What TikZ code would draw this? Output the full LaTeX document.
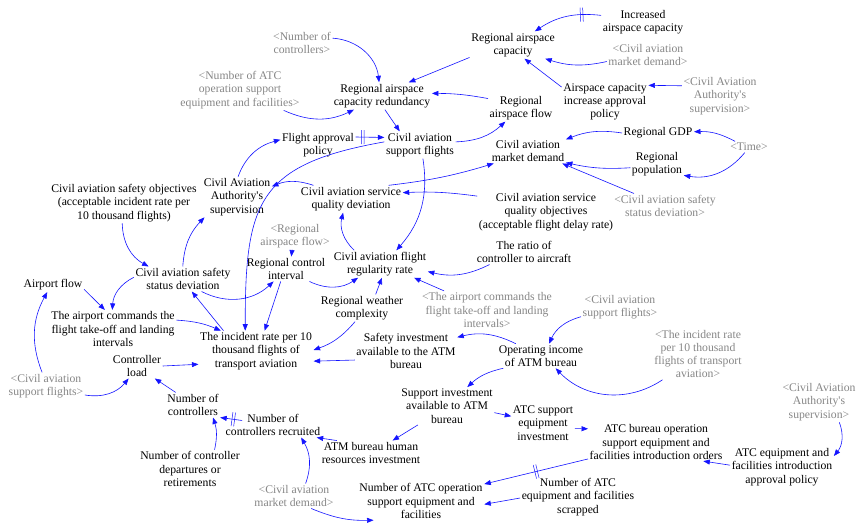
\documentclass[tikz,border=0pt]{standalone}
\usepackage{fontspec}
\setmainfont{Liberation Serif}[Ligatures=TeXOff]
\usetikzlibrary{arrows.meta,decorations.markings}
\newcommand\vfont{\fontsize{11.7pt}{13.3pt}\selectfont}
\definecolor{linkblue}{RGB}{20,20,255}
\definecolor{shadowgray}{RGB}{135,135,135}
\tikzset{
  var/.style={align=center, inner sep=1.5pt, font=\vfont, text=black},
  shadowvar/.style={var, text=shadowgray},
  arr/.style={draw=linkblue, line width=0.6pt, -{Triangle[length=6.5pt,width=5pt]}},
  delaymark/.style={postaction={decorate, decoration={markings,
     mark=at position #1 with {\draw[-,draw=linkblue,line width=0.5pt]
       (-1.3pt,-7pt) -- (-1.3pt,7pt) (1.3pt,-7pt) -- (1.3pt,7pt);}}}}
}
\begin{document}
\begin{tikzpicture}[x=1pt,y=-1pt]
\fill[white] (0,0) rectangle (858,527);
\useasboundingbox (0,0) rectangle (858,527);

% ---- variables ----
\node[var] (inc) at (643,22) {Increased\\airspace capacity};
\node[var] (rac) at (513,45) {Regional airspace\\capacity};
\node[shadowvar] (gmd1) at (648,55) {<Civil aviation\\market demand>};
\node[var] (acp) at (605,102) {Airspace capacity\\increase approval\\policy};
\node[shadowvar] (gcas1) at (720,96) {<Civil Aviation\\Authority's\\supervision>};
\node[var] (raf) at (521,108) {Regional\\airspace flow};
\node[var] (gdp) at (658,133) {Regional GDP};
\node[shadowvar] (time) at (749,147) {<Time>};
\node[var] (md) at (528,151) {Civil aviation\\market demand};
\node[var] (pop) at (657,164) {Regional\\population};
\node[shadowvar] (gssd) at (665,206) {<Civil aviation safety\\status deviation>};
\node[var] (sqo) at (546,212) {Civil aviation service\\quality objectives\\(acceptable flight delay rate)};
\node[var] (ratio) at (524,252) {The ratio of\\controller to aircraft};
\node[var] (rr) at (380,264) {Civil aviation flight\\regularity rate};
\node[shadowvar] (gac) at (487,310) {<The airport commands the\\flight take-off and landing\\intervals>};
\node[shadowvar] (gsf2) at (620,307) {<Civil aviation\\support flights>};
\node[var] (wx) at (362,308) {Regional weather\\complexity};
\node[var] (si) at (406,351) {Safety investment\\available to the ATM\\bureau};
\node[var] (oi) at (541,356) {Operating income\\of ATM bureau};
\node[shadowvar] (gir) at (698,354) {<The incident rate\\per 10 thousand\\flights of transport\\aviation>};
\node[var] (spi) at (447,406) {Support investment\\available to ATM\\bureau};
\node[var] (sei) at (543,423) {ATC support\\equipment\\investment};
\node[var] (ord) at (656,442) {ATC bureau operation\\support equipment and\\facilities introduction orders};
\node[shadowvar] (gcas2) at (819,402) {<Civil Aviation\\Authority's\\supervision>};
\node[var] (eap) at (782,467) {ATC equipment and\\facilities introduction\\approval policy};
\node[var] (hr) at (371,453) {ATM bureau human\\resources investment};
\node[var] (nos) at (421,501) {Number of ATC operation\\support equipment and\\facilities};
\node[var] (scr) at (578,497) {Number of ATC\\equipment and facilities\\scrapped};
\node[shadowvar] (gmd2) at (294,496) {<Civil aviation\\market demand>};
\node[var] (rec) at (273,425) {Number of\\controllers recruited};
\node[var] (nc) at (193,405) {Number of\\controllers};
\node[var] (dep) at (190,469) {Number of controller\\departures or\\retirements};
\node[var] (cl) at (137,366) {Controller\\load};
\node[shadowvar] (gsf1) at (46,386) {<Civil aviation\\support flights>};
\node[var] (ir) at (256,351) {The incident rate per 10\\thousand flights of\\transport aviation};
\node[var] (ac) at (113,329) {The airport commands the\\flight take-off and landing\\intervals};
\node[var] (af) at (53,285) {Airport flow};
\node[var] (ssd) at (183,279) {Civil aviation safety\\status deviation};
\node[var] (rci) at (286,269) {Regional control\\interval};
\node[shadowvar] (graf) at (295,236) {<Regional\\airspace flow>};
\node[var] (caa) at (237,197) {Civil Aviation\\Authority's\\supervision};
\node[var] (cso) at (124,203) {Civil aviation safety objectives\\(acceptable incident rate per\\10 thousand flights)};
\node[var] (sqd) at (351,199) {Civil aviation service\\quality deviation};
\node[var] (fap) at (318,145) {Flight approval\\policy};
\node[var] (sf) at (420,145) {Civil aviation\\support flights};
\node[var] (red) at (382,96) {Regional airspace\\capacity redundancy};
\node[shadowvar] (gnc) at (302,43) {<Number of\\controllers>};
\node[shadowvar] (gnatc) at (240,90) {<Number of ATC\\operation support\\equipment and facilities>};

% ---- airspace capacity ----
\draw[arr,delaymark=0.28] (inc.171) to[bend right=20] (rac.32);
\draw[arr] (gmd1.189) to[bend left=15] (rac.337);
\draw[arr] (acp.161) -- (rac.310);
\draw[arr] (gcas1.165) -- (acp.21);
\draw[arr] (rac.196) -- (red.27);
\draw[arr] (raf.164) to[bend right=5] (red.3);
\draw[arr] (gnc.9) to[bend left=40] (red.102);
\draw[arr] (gnatc.335) to[bend right=25] (red.206);
\draw[arr] (red.282) -- (sf.146);
\draw[arr,delaymark=0.25] (fap.12) -- (sf.168);
\draw[arr] (sf.5) to[bend right=20] (raf.221);
\draw[arr] (sf.282) to[bend left=25] (rr.40);
\draw[arr] (sf.175) to[out=190,in=90,looseness=1.4] (ir.118);

% ---- regulation and service quality ----
\draw[arr] (caa.87) to[out=70,in=195] (fap.172);
\draw[arr] (sqd.160) to[bend right=20] (caa.17);
\draw[arr] (sqo.167) to[bend right=5] (sqd.7);
\draw[arr] (rr.152) to[bend left=30] (sqd.240);
\draw[arr] (sqd.20) to[bend right=5] (md.200);

% ---- market demand ----
\draw[arr] (gdp.180) to[bend right=15] (md.17);
\draw[arr] (pop.188) to[bend left=8] (md.343);
\draw[arr] (gssd.158) -- (md.340);
\draw[arr] (time.158) to[bend right=15] (gdp.2);
\draw[arr] (time.233) to[bend left=30] (pop.337);

% ---- flight regularity ----
\draw[arr] (ratio.200) to[bend left=20] (rr.351);
\draw[arr] (gac.156) -- (rr.338);
\draw[arr] (wx.45) -- (rr.278);
\draw[arr] (rci.332) to[bend right=30] (rr.212);
\draw[arr] (graf.258) -- (rci.67);

% ---- safety ----
\draw[arr] (rci.247) -- (ir.67);
\draw[arr] (ssd.326) to[bend right=35] (rci.225);
\draw[arr] (ir.148) -- (ssd.305);
\draw[arr] (wx.243) to[bend left=15] (ir.1);
\draw[arr] (si.190) -- (ir.350);
\draw[arr] (ac.8) to[bend left=10] (ir.150);
\draw[arr] (cl.0) -- (ir.193);
\draw[arr] (af.352) -- (ac.113);
\draw[arr] (ssd.178) to[bend right=30] (ac.92);
\draw[arr] (gsf1.106) to[bend left=25] (af.231);
\draw[arr] (gsf1.347) to[bend right=30] (cl.236);
\draw[arr] (nc.144) -- (cl.325);
\draw[arr] (ssd.91) to[bend left=20] (caa.212);
\draw[arr] (cso.265) to[bend right=30] (ssd.160);

% ---- ATM bureau finance ----
\draw[arr] (gsf2.194) to[bend right=25] (oi.57);
\draw[arr] (gir.216) to[bend left=40] (oi.320);
\draw[arr] (oi.154) to[bend right=20] (si.15);
\draw[arr] (oi.198) to[bend right=15] (spi.43);
\draw[arr] (spi.352) -- (sei.168);
\draw[arr] (spi.213) -- (hr.30);
\draw[arr] (sei.350) -- (ord.169);
\draw[arr] (eap.178) -- (ord.338);
\draw[arr] (gcas2.315) to[bend left=30] (eap.12);
\draw[arr,delaymark=0.5] (ord.194) -- (nos.15);
\draw[arr] (scr.181) -- (nos.357);
\draw[arr] (gmd2.324) to[bend right=12] (nos.202);

% ---- controllers ----
\draw[arr] (gmd2.47) to[bend right=25] (rec.336);
\draw[arr] (hr.160) -- (rec.344);
\draw[arr,delaymark=0.4] ([shift={(18pt,-8pt)}]rec.north west) -- (nc.south east);
\draw[arr] (dep.38) to[bend right=15] (nc.328);
\end{tikzpicture}
\end{document}
